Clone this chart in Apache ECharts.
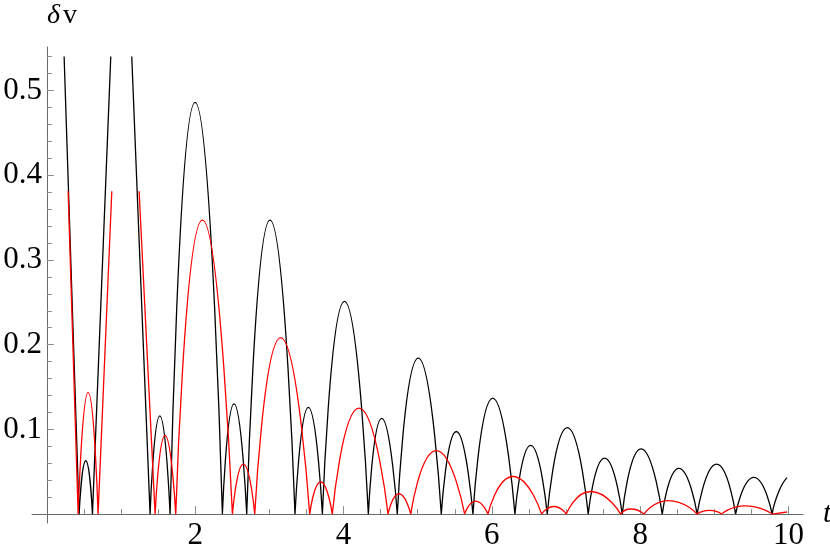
<!DOCTYPE html>
<html><head><meta charset="utf-8">
<script src="https://cdn.jsdelivr.net/npm/echarts@6/dist/echarts.min.js"></script>
<style>html,body{margin:0;padding:0;background:#fff}#c{width:830px;height:554px}</style>
</head><body><div id="c"></div>
<script>
// tick values / labels
const xTickLabels = [2, 4, 6, 8, 10];
const xMinorTicks = [0.5, 1, 1.5, 2.5, 3, 3.5, 4.5, 5, 5.5, 6.5, 7, 7.5, 8.5, 9, 9.5];
const yTickLabels = [0.1, 0.2, 0.3, 0.4, 0.5];
const yMinorTicks = [0.02, 0.04, 0.06, 0.08, 0.12, 0.14, 0.16, 0.18, 0.22, 0.24, 0.26, 0.28,
  0.32, 0.34, 0.36, 0.38, 0.42, 0.44, 0.46, 0.48, 0.52, 0.54];

// black curve: [t, δv] points, null = break between arches
const blackCurve = [
  [0.233, 0.54], [0.435, 0], null,
  [0.435, 0], [0.525, 0.063], [0.615, 0], null,
  [0.615, 0], [0.862, 0.54], null,
  [1.145, 0.54], [1.392, 0], null,
  [1.392, 0], [1.523, 0.116], [1.662, 0], null,
  [1.662, 0], [1.999, 0.486], [2.367, 0], null,
  [2.367, 0], [2.524, 0.130], [2.695, 0], null,
  [2.695, 0], [3.009, 0.347], [3.346, 0], null,
  [3.346, 0], [3.526, 0.126], [3.715, 0], null,
  [3.715, 0], [4.013, 0.251], [4.335, 0], null,
  [4.335, 0], [4.515, 0.113], [4.725, 0], null,
  [4.725, 0], [5.008, 0.184], [5.318, 0], null,
  [5.318, 0], [5.521, 0.0975], [5.745, 0], null,
  [5.745, 0], [6.012, 0.137], [6.311, 0], null,
  [6.311, 0], [6.523, 0.081], [6.747, 0], null,
  [6.747, 0], [7.017, 0.102], [7.299, 0], null,
  [7.299, 0], [7.520, 0.066], [7.758, 0], null,
  [7.758, 0], [8.012, 0.077], [8.297, 0], null,
  [8.297, 0], [8.522, 0.054], [8.768, 0], null,
  [8.768, 0], [9.030, 0.059], [9.286, 0], null,
  [9.286, 0], [9.532, 0.0433], [9.779, 0], null,
  [9.779, 0], [9.870, 0.027], [9.980, 0.043]
];

// red curve
const redCurve = [
  [0.287, 0.381], [0.422, 0], null,
  [0.422, 0], [0.557, 0.1436], [0.691, 0], null,
  [0.691, 0], [0.876, 0.381], null,
  [1.244, 0.381], [1.460, 0], null,
  [1.460, 0], [1.594, 0.093], [1.738, 0], null,
  [1.738, 0], [2.098, 0.347], [2.502, 0], null,
  [2.502, 0], [2.650, 0.059], [2.803, 0], null,
  [2.803, 0], [3.153, 0.208], [3.544, 0], null,
  [3.544, 0], [3.692, 0.038], [3.849, 0], null,
  [3.849, 0], [4.209, 0.125], [4.600, 0], null,
  [4.600, 0], [4.748, 0.024], [4.906, 0], null,
  [4.906, 0], [5.251, 0.075], [5.633, 0], null,
  [5.633, 0], [5.781, 0.0153], [5.947, 0], null,
  [5.947, 0], [6.284, 0.0444], [6.671, 0], null,
  [6.671, 0], [6.837, 0.009], [7.003, 0], null,
  [7.003, 0], [7.331, 0.0267], [7.736, 0], null,
  [7.736, 0], [7.870, 0.006], [8.050, 0], null,
  [8.050, 0], [8.378, 0.016], [8.768, 0], null,
  [8.768, 0], [8.935, 0.0043], [9.097, 0], null,
  [9.097, 0], [9.411, 0.0098], [9.779, 0], null,
  [9.779, 0], [9.980, 0.0025]
];

const xMin = -0.2, xMax = 10.195;
const yMin = -0.0105, yMax = 0.5513;
const serif = 'Liberation Serif';
const axisGray = '#6a6a6a';
const tickGray = '#8c8c8c';

function toData(arr) { return arr.map(p => p ? p : ['-', '-']); }

const chart = echarts.init(document.getElementById('c'), null, { renderer: 'canvas' });

function xAx(major) {
  return {
    type: 'value', gridIndex: 0, position: 'bottom', min: xMin, max: xMax,
    axisLine: { show: major, onZero: true, onZeroAxisIndex: 0, lineStyle: { color: axisGray, width: 1 } },
    axisTick: { show: true, inside: true, length: major ? 8 : 5, customValues: major ? xTickLabels : xMinorTicks,
      lineStyle: { color: tickGray, width: 1 } },
    axisLabel: major ? { show: true, customValues: xTickLabels, margin: -3, color: '#000',
      fontFamily: serif, fontSize: 31 } : { show: false },
    splitLine: { show: false },
    name: major ? 't' : '', nameLocation: 'end', nameGap: 20, nameMoveOverlap: false,
    nameTextStyle: { fontFamily: serif, fontStyle: 'italic', fontSize: 30, color: '#000', verticalAlign: 'middle' }
  };
}
function yAx(major) {
  return {
    type: 'value', gridIndex: 0, position: 'left', min: yMin, max: yMax,
    axisLine: { show: major, onZero: true, onZeroAxisIndex: 0, lineStyle: { color: axisGray, width: 1 } },
    axisTick: { show: true, inside: true, length: major ? 7 : 5, customValues: major ? yTickLabels : yMinorTicks,
      lineStyle: { color: tickGray, width: 1 } },
    axisLabel: major ? { show: true, customValues: yTickLabels, margin: -10, color: '#000',
      fontFamily: serif, fontSize: 31 } : { show: false },
    splitLine: { show: false }
  };
}

chart.setOption({
  animation: false,
  backgroundColor: '#fff',
  title: [
    { text: 'δ', left: 47, top: 2, padding: 0, textAlign: 'left',
      textStyle: { fontFamily: serif, fontStyle: 'italic', fontWeight: 'normal', fontSize: 28, color: '#000' } },
    { text: 'v', left: 63, top: 2, padding: 0, textAlign: 'left',
      textStyle: { fontFamily: serif, fontWeight: 'normal', fontSize: 28, color: '#000' } }
  ],
  grid: { left: 32, right: 27, top: 47, bottom: 31, containLabel: false, outerBoundsMode: 'none' },
  xAxis: [xAx(true), xAx(false)],
  yAxis: [yAx(true), yAx(false)],
  series: [
    { type: 'line', xAxisIndex: 0, yAxisIndex: 0, data: toData(blackCurve), smooth: 0.6,
      symbol: 'none', connectNulls: false, lineStyle: { color: '#000', width: 1.3 }, z: 3 },
    { type: 'line', xAxisIndex: 0, yAxisIndex: 0, data: toData(redCurve), smooth: 0.6,
      symbol: 'none', connectNulls: false, lineStyle: { color: '#ff0000', width: 1.3 }, z: 4 }
  ]
});
</script>
</body></html>
